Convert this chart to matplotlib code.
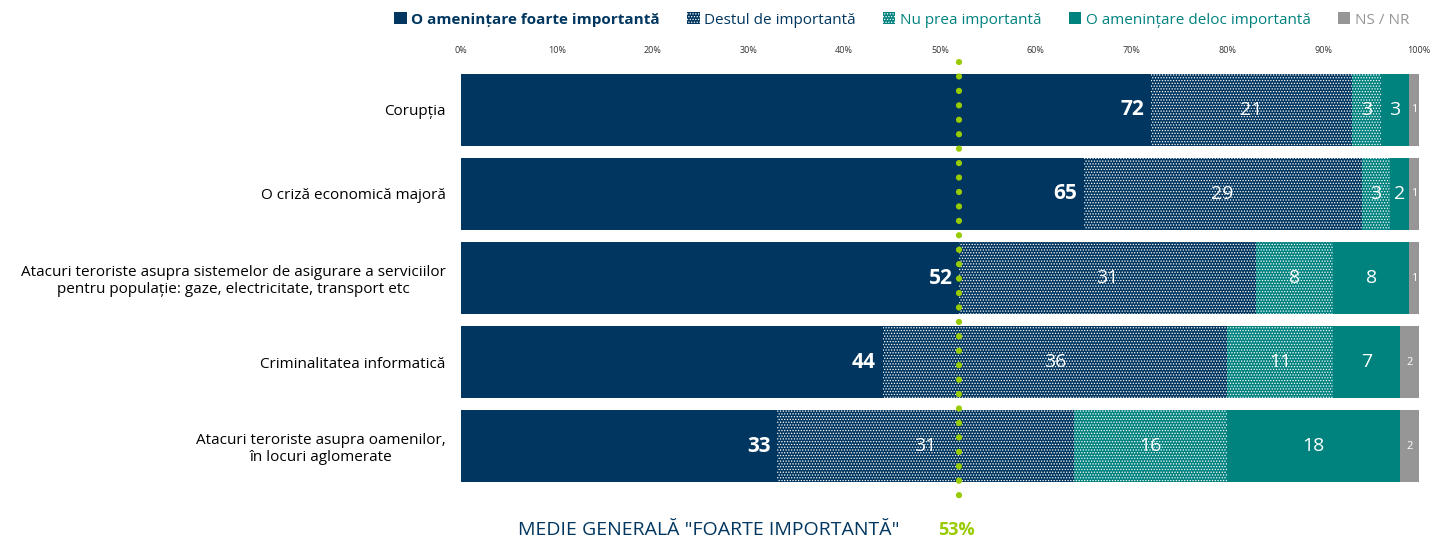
import matplotlib.pyplot as plt
from matplotlib.patches import Patch
import numpy as np

plt.rcParams['font.family'] = ['Open Sans', 'DejaVu Sans']
plt.rcParams['hatch.linewidth'] = 0.6

categories = [
    "Corupția",
    "O criză economică majoră",
    "Atacuri teroriste asupra sistemelor de asigurare a serviciilor\npentru populație: gaze, electricitate, transport etc",
    "Criminalitatea informatică",
    "Atacuri teroriste asupra oamenilor,\nîn locuri aglomerate",
]
series_names = ["O amenințare foarte importantă", "Destul de importantă", "Nu prea importantă",
                "O amenințare deloc importantă", "NS / NR"]
foarte = [72, 65, 52, 44, 33]
destul = [21, 29, 31, 36, 31]
nu_prea = [3, 3, 8, 11, 16]
deloc = [3, 2, 8, 7, 18]
nsnr = [1, 1, 1, 2, 2]
avg_value = 53
avg_line_x = 52

tick_vals = np.arange(0, 101, 10)
tick_labels = [f"{v}%" for v in tick_vals]

dark = "#00365f"
teal = "#00827f"
gray = "#969696"
green = "#99cc00"

colors = [dark, dark, teal, teal, gray]
hatches = [None, "......", "......", None, None]
text_colors = [dark, dark, teal, teal, gray]

fig = plt.figure(figsize=(14.43, 5.42), dpi=100)
ax = fig.add_axes([461 / 1443, 1 - 485 / 542, (1419 - 461) / 1443, 415 / 542])

data = [foarte, destul, nu_prea, deloc, nsnr]
y = np.arange(len(categories))
left = np.zeros(len(categories))
for i, vals in enumerate(data):
    vals = np.array(vals)
    ax.barh(y, vals, left=left, height=0.85, color=colors[i],
            hatch=hatches[i], edgecolor="white" if hatches[i] else colors[i],
            linewidth=0)
    for j, v in enumerate(vals):
        if i == 0:
            ax.text(left[j] + v - 0.7, y[j], str(v), ha="right", va="center",
                    color="white", fontsize=15, fontweight="bold")
        elif i == 4:
            ax.text(left[j] + v / 2, y[j], str(v), ha="center", va="center",
                    color="white", fontsize=8)
        else:
            ax.text(left[j] + v / 2, y[j], str(v), ha="center", va="center",
                    color="white", fontsize=14)
    left += vals

ax.set_xlim(0, 100)
ax.set_ylim(4.464, -0.476)
ax.set_yticks(y)
ax.set_yticklabels(categories, fontsize=11, multialignment="center")
ax.tick_params(axis="y", length=0, pad=11)
ax.xaxis.tick_top()
ax.set_xticks(tick_vals)
ax.set_xticklabels(tick_labels, fontsize=6.5, color="#333333")
ax.tick_params(axis="x", length=0, pad=11)
for s in ax.spines.values():
    s.set_visible(False)

# average line
ax.plot([avg_line_x, avg_line_x], [-0.571, 4.70], linestyle=(0, (0.01, 2.3)),
        color=green, linewidth=4.5, dash_capstyle="round", clip_on=False, zorder=5)

# legend
handles = [Patch(facecolor=colors[i], hatch=hatches[i],
                 edgecolor="white" if hatches[i] else colors[i], linewidth=0)
           for i in range(5)]
leg = fig.legend(handles, series_names, loc="center", bbox_to_anchor=(0.625, 0.963),
                 ncol=5, frameon=False, fontsize=11, handlelength=0.8, handleheight=0.8,
                 handletextpad=0.3, columnspacing=1.8)
for i, t in enumerate(leg.get_texts()):
    t.set_color(text_colors[i])
    if i == 0:
        t.set_fontweight("bold")

fig.text(0.491, 0.012, 'MEDIE GENERALĂ "FOARTE IMPORTANTĂ"', ha="center", va="baseline",
         color=dark, fontsize=14)
fig.text(0.65, 0.012, f"{avg_value}%", ha="left", va="baseline", color=green,
         fontsize=13, fontweight="bold")

fig.savefig("out.png", dpi=100)
